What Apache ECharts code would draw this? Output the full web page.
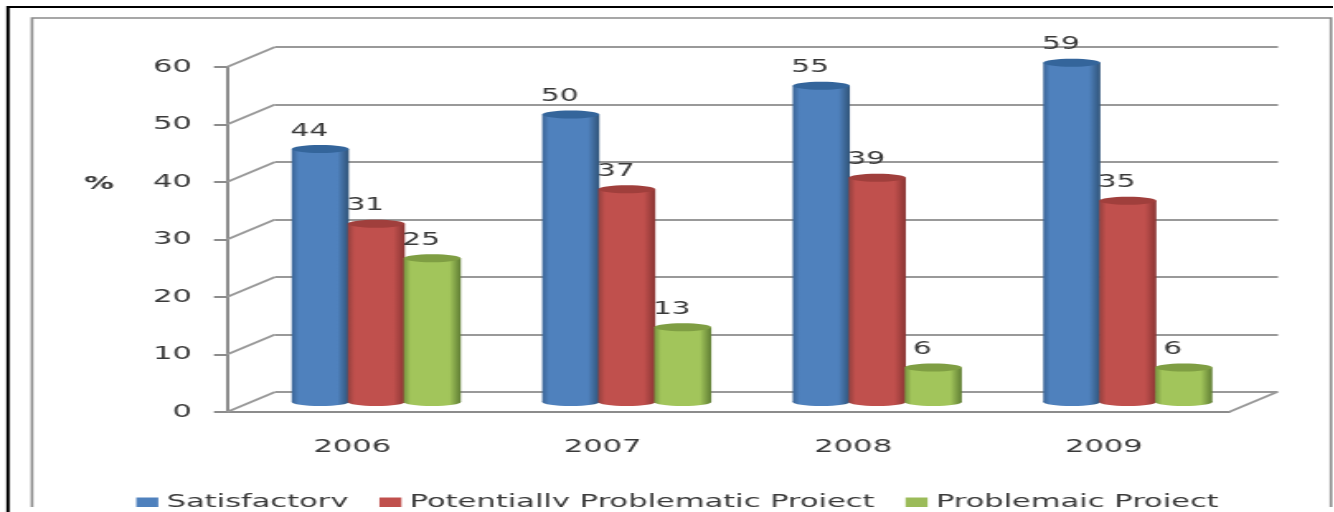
<!DOCTYPE html>
<html>
<head>
<meta charset="utf-8">
<script src="https://cdn.jsdelivr.net/npm/echarts@6/dist/echarts.min.js"></script>
<style>
  html, body { margin: 0; padding: 0; background: #fff; overflow: hidden; }
  #stage { position: absolute; left: 0; top: 0; height: 512px; transform-origin: 0 0; }
</style>
</head>
<body>
<div id="stage"></div>
<script>
const years = ['2006', '2007', '2008', '2009'];
const satisfactory = [44, 50, 55, 59];
const potentiallyProblematic = [31, 37, 39, 35];
const problematic = [25, 13, 6, 6];
const yTicks = [0, 10, 20, 30, 40, 50, 60];

// The drawing is laid out on a narrower canvas and widened, which gives the wide lettering.
const WIDEN = 1.65;
const px = v => v / WIDEN;
const stage = document.getElementById('stage');
stage.style.width = px(1334) + 'px';
stage.style.transform = 'scaleX(' + WIDEN + ')';

const AXIS_GREY = '#8c8c8c';
const TEXT = '#3a3a3a';
const FONT = '"DejaVu Sans"';
const DEPTH_X = px(48), DEPTH_Y = 20;

function gradient(edge, mid, darkEdge) {
  return new echarts.graphic.LinearGradient(0, 0, 1, 0, [
    { offset: 0, color: edge }, { offset: 0.12, color: mid },
    { offset: 0.45, color: mid }, { offset: 0.8, color: mid }, { offset: 1, color: darkEdge }
  ]);
}

// One cylinder per data item, placed through the value and category axes.
function cylinderSeries(name, values, slot, swatch, side, mid, shade, top) {
  return {
    type: 'custom', name, xAxisIndex: 2, yAxisIndex: 2, z: 5 + slot,
    itemStyle: { color: swatch },
    data: values.map((v, i) => [i, v]),
    renderItem(params, api) {
      const band = api.size([1, 0])[0];
      const cx = api.coord([api.value(0), 0])[0] + (slot - 1) * band * 0.2235;
      const yTop = api.coord([0, api.value(1)])[1];
      const yBase = api.coord([0, 0])[1];
      const rx = band * 0.114, ry = 4;
      const fill = gradient(side, mid, shade);
      return {
        type: 'group',
        children: [
          { type: 'ellipse', shape: { cx, cy: yBase, rx, ry }, style: { fill } },
          { type: 'rect', shape: { x: cx - rx, y: yTop, width: rx * 2, height: yBase - yTop }, style: { fill } },
          { type: 'ellipse', shape: { cx, cy: yTop, rx, ry }, style: { fill: top } },
          { type: 'text', style: {
              text: String(api.value(1)), x: cx - px(11), y: yTop - 18,
              align: 'center', verticalAlign: 'middle',
              font: '18px ' + FONT, fill: TEXT
            }, z2: 50 }
        ]
      };
    }
  };
}

const option = {
  animation: false,
  backgroundColor: '#fff',
  grid: [
    { left: px(227), width: px(1002), top: 67, height: 345 },   // front plane: the visible axes
    { left: px(275), width: px(1003), top: 47, height: 345 },   // back wall: the gridlines
    { left: px(251), width: px(1002), top: 57, height: 345 }    // middle plane: the cylinders
  ],
  xAxis: [
    { gridIndex: 0, type: 'category', data: years,
      axisLine: { lineStyle: { color: AXIS_GREY, width: 2 } },
      axisTick: { length: 7, lineStyle: { color: AXIS_GREY, width: 2 } },
      axisLabel: { color: TEXT, fontFamily: FONT, fontSize: 18.5, margin: 26 } },
    { gridIndex: 1, type: 'category', data: years, show: false },
    { gridIndex: 2, type: 'category', data: years, show: false }
  ],
  yAxis: [
    { gridIndex: 0, type: 'value', min: 0, max: 60, interval: 10,
      axisLine: { show: true, lineStyle: { color: AXIS_GREY, width: 2 } },
      axisTick: { show: true, length: px(13), lineStyle: { color: AXIS_GREY, width: 2 } },
      axisLabel: { color: TEXT, fontFamily: FONT, fontSize: 18.5, margin: px(35) },
      splitLine: { show: false } },
    { gridIndex: 1, type: 'value', min: 0, max: 60, interval: 10,
      axisLine: { show: false }, axisTick: { show: false }, axisLabel: { show: false },
      splitLine: { show: true, lineStyle: { color: '#999999', width: 2 } } },
    { gridIndex: 2, type: 'value', min: 0, max: 60, interval: 10, show: false }
  ],
  legend: {
    left: px(128), top: 488, itemWidth: px(22), itemHeight: 10, itemGap: px(31), icon: 'rect',
    data: ['Satisfactory', 'Potentially Problematic Project', 'Problemaic Project'],
    textStyle: { color: TEXT, fontFamily: FONT, fontSize: 18.5 }
  },
  graphic: [
    { type: 'rect', z: 0, silent: true, shape: { x: px(32), y: 18, width: px(1299), height: 520 },
      style: { fill: '#fff', stroke: '#8a8a8a', lineWidth: 1.6 } },
    { type: 'polyline', z: 200, silent: true,
      shape: { points: [[px(8), 540], [px(8), 7], [px(1340), 7]] },
      style: { fill: 'none', stroke: '#000', lineWidth: 2 } },
    { type: 'text', z: 10, silent: true, x: px(99), y: 184,
      style: { text: '%', font: 'bold 18px ' + FONT, fill: TEXT, align: 'center', verticalAlign: 'middle' } },
    // The page ends the picture just above the legend's descenders.
    { type: 'rect', z: 100, silent: true, shape: { x: px(9.5), y: 507, width: px(1330), height: 6 },
      style: { fill: '#fff' } }
  ],
  series: [
    // Depth lines joining each front tick to the back wall.
    { type: 'custom', xAxisIndex: 0, yAxisIndex: 0, z: 1, silent: true,
      data: yTicks.map(t => [0, t]),
      renderItem(params, api) {
        const x0 = params.coordSys.x;
        const y0 = api.coord([0, api.value(1)])[1];
        return { type: 'line', shape: { x1: x0, y1: y0, x2: x0 + DEPTH_X, y2: y0 - DEPTH_Y },
                 style: { stroke: '#999999', lineWidth: 2 } };
      } },
    // Floor edge on the right-hand side.
    { type: 'custom', xAxisIndex: 0, yAxisIndex: 0, z: 1, silent: true,
      data: [[0, 0]],
      renderItem(params, api) {
        const x0 = params.coordSys.x + params.coordSys.width;
        const y0 = api.coord([0, 0])[1];
        return { type: 'line', shape: { x1: x0, y1: y0, x2: x0 + DEPTH_X, y2: y0 - DEPTH_Y },
                 style: { stroke: '#999999', lineWidth: 2 } };
      } },
    cylinderSeries('Satisfactory', satisfactory, 0, '#4f81bd', '#3a6496', '#4f81bd', '#2f5378', '#34659b'),
    cylinderSeries('Potentially Problematic Project', potentiallyProblematic, 1, '#c0504d', '#94403e', '#c0504d', '#8a3533', '#a03f3c'),
    cylinderSeries('Problemaic Project', problematic, 2, '#9bbb59', '#76923f', '#a2c55b', '#5f7d33', '#7f9e43')
  ]
};

echarts.init(stage).setOption(option);
</script>
</body>
</html>
